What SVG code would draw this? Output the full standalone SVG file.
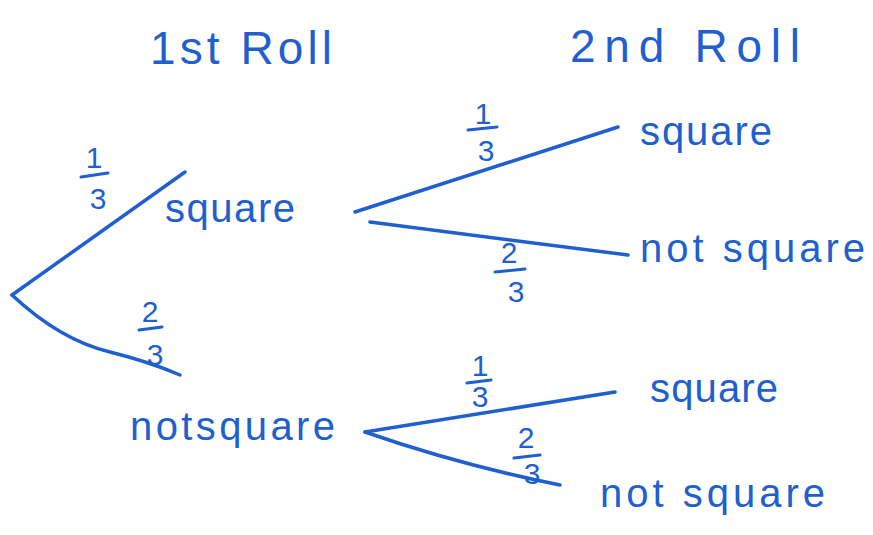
<svg xmlns="http://www.w3.org/2000/svg" width="873" height="535" viewBox="0 0 873 535">
<style>
.e{stroke:#1f5fcf;stroke-width:3.5;fill:none;stroke-linecap:round}
.t{font-family:"Liberation Sans",sans-serif;font-size:40px;fill:#1f5fcf}
.h{font-family:"Liberation Sans",sans-serif;font-size:46px;fill:#1f5fcf}
.f{font-family:"Liberation Sans",sans-serif;font-size:30px;fill:#1f5fcf;text-anchor:middle}
.b{stroke:#1f5fcf;stroke-width:3;stroke-linecap:round}
</style>
<rect width="873" height="535" fill="#ffffff"/>
<g id="headers">
<text class="h" x="150" y="64" textLength="182" lengthAdjust="spacing">1st Roll</text>
<text class="h" x="570" y="62" textLength="230" lengthAdjust="spacing">2nd Roll</text>
</g>
<g id="connectors">
<path class="e" d="M12 295 L185 172"/>
<path class="e" d="M12 295 Q60 340 110 352 Q150 362 180 375"/>
<path class="e" d="M355 212 L618 127"/>
<path class="e" d="M370 222 L628 255"/>
<path class="e" d="M365 432 L615 392"/>
<path class="e" d="M365 432 Q460 465 560 485"/>
</g>
<g id="fractions">
<g id="f1"><text class="f" x="94" y="168">1</text><line class="b" x1="81" y1="177" x2="108" y2="173"/><text class="f" x="98" y="209">3</text></g>
<g id="f2"><text class="f" x="150" y="322">2</text><line class="b" x1="139" y1="330" x2="162" y2="327"/><text class="f" x="155" y="365">3</text></g>
<g id="f3"><text class="f" x="483" y="124">1</text><line class="b" x1="468" y1="130" x2="497" y2="127"/><text class="f" x="486" y="161">3</text></g>
<g id="f4"><text class="f" x="509" y="263">2</text><line class="b" x1="495" y1="272" x2="525" y2="269"/><text class="f" x="516" y="302">3</text></g>
<g id="f5"><text class="f" x="480" y="376">1</text><line class="b" x1="467" y1="383" x2="491" y2="380"/><text class="f" x="480" y="407">3</text></g>
<g id="f6"><text class="f" x="526" y="448">2</text><line class="b" x1="514" y1="458" x2="540" y2="455"/><text class="f" x="532" y="484">3</text></g>
</g>
<g id="n-square1"><text class="t" x="165" y="222" textLength="130" lengthAdjust="spacing">square</text></g>
<g id="n-notsquare1"><text class="t" x="130" y="440" textLength="205" lengthAdjust="spacing">notsquare</text></g>
<g id="n-square2a"><text class="t" x="640" y="145" textLength="132" lengthAdjust="spacing">square</text></g>
<g id="n-notsquare2a"><text class="t" x="640" y="262" textLength="225" lengthAdjust="spacing">not square</text></g>
<g id="n-square2b"><text class="t" x="650" y="402" textLength="128" lengthAdjust="spacing">square</text></g>
<g id="n-notsquare2b"><text class="t" x="600" y="507" textLength="225" lengthAdjust="spacing">not square</text></g>
</svg>
